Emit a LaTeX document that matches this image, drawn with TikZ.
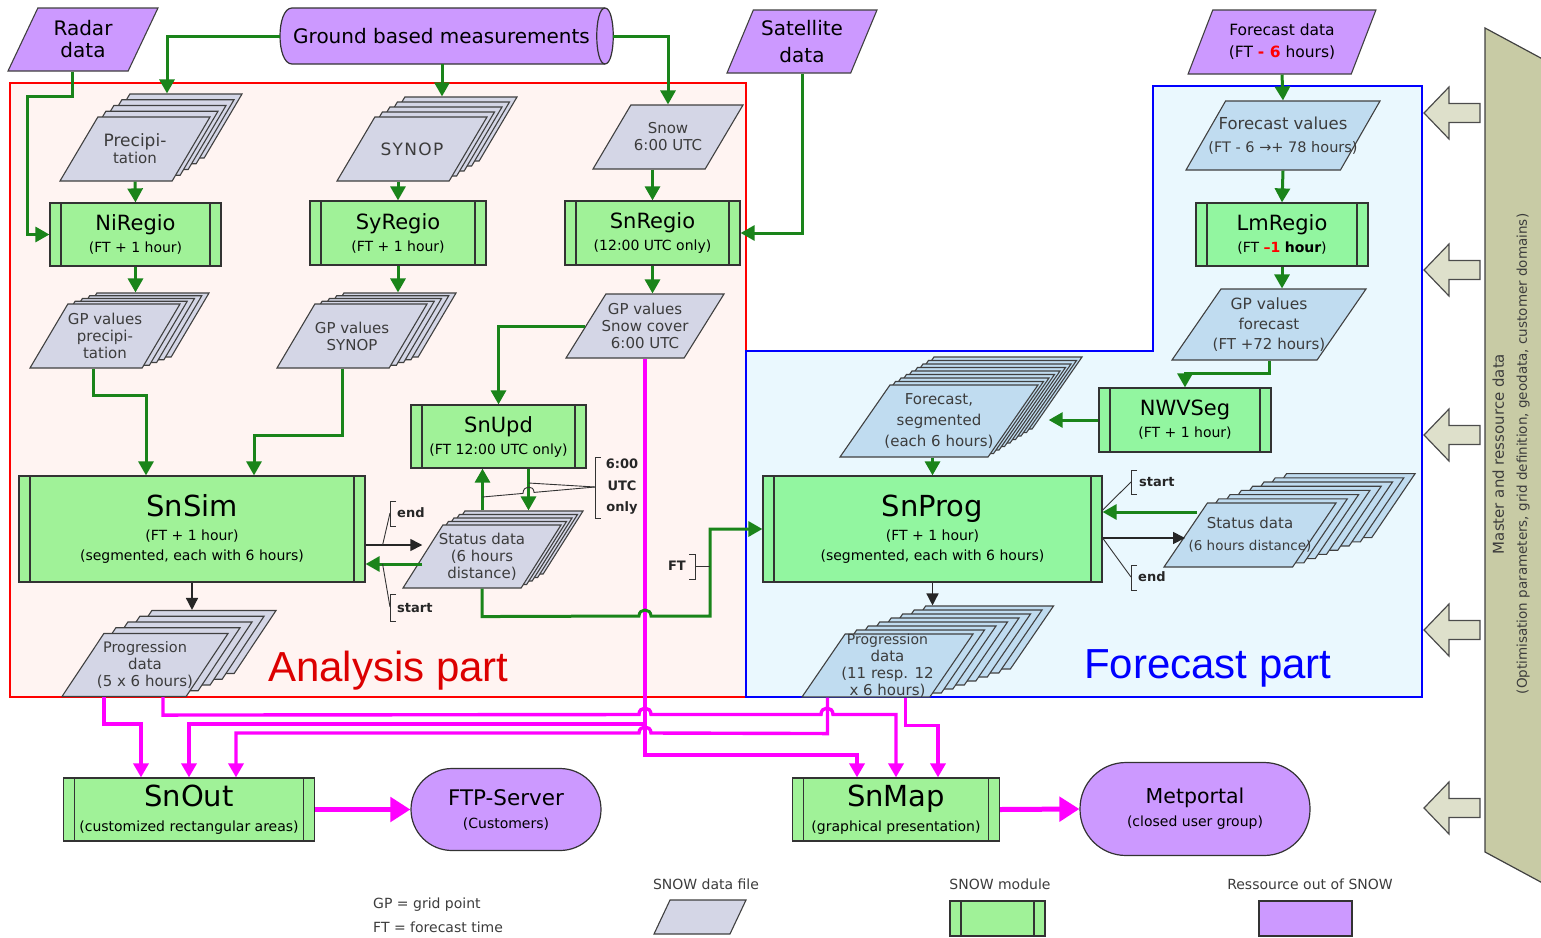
\documentclass[tikz,border=0pt]{standalone}
\usepackage{fontspec}
\setmainfont{DejaVu Sans}
\newfontfamily\partfont{Liberation Sans}
\usetikzlibrary{arrows.meta,shapes.geometric}

\definecolor{resC}{RGB}{204,153,255}
\definecolor{modA}{RGB}{160,242,152}
\definecolor{modF}{RGB}{146,246,160}
\definecolor{fileA}{RGB}{212,214,230}
\definecolor{fileF}{RGB}{192,220,240}
\definecolor{anaBG}{RGB}{255,244,242}
\definecolor{fcBG}{RGB}{234,248,254}
\definecolor{flowG}{RGB}{26,132,26}
\definecolor{outM}{RGB}{255,0,255}
\definecolor{barC}{RGB}{200,203,165}
\definecolor{barArr}{RGB}{222,224,203}
\definecolor{txtG}{RGB}{60,60,60}
\definecolor{partR}{RGB}{220,0,0}

\newcommand\modfont{\fontsize{21}{25}\selectfont}
\newcommand\bigfont{\fontsize{29}{33}\selectfont}
\newcommand\modsub{\fontsize{14}{20}\selectfont}
\newcommand\datafont{\fontsize{15}{17}\selectfont}
\newcommand\resfont{\fontsize{20}{22}\selectfont}
\newcommand\notefont{\fontsize{13}{21.5}\selectfont\bfseries}
\newcommand\legfont{\fontsize{14}{22}\selectfont}

\tikzset{
  module/.style={rectangle, draw=black!80, line width=1.2pt, fill=modA, align=center, inner sep=0pt, font=\modsub, text=black,
    path picture={\draw[black!80, line width=1.2pt]
      ([xshift=11]path picture bounding box.north west) -- ([xshift=11]path picture bounding box.south west)
      ([xshift=-11]path picture bounding box.north east) -- ([xshift=-11]path picture bounding box.south east);}},
  datafile/.style={trapezium, trapezium left angle=63, trapezium right angle=117, trapezium stretches=true,
    draw=black!75, line width=1.1pt, fill=fileA, inner sep=1pt, align=center, text=txtG, font=\datafont},
  infile/.style={datafile, fill=resC, text=black, font=\resfont},
  resource/.style={rectangle, draw=black!80, line width=1.2pt, fill=resC, align=center, font=\modsub, text=black},
  flow/.style={draw=flowG, line width=3pt, -{Triangle[length=14pt,width=15pt]}},
  ctrl/.style={draw=black!85, line width=1.5pt, -{Triangle[length=12pt,width=12pt]}},
  outflow/.style={draw=outM, line width=3.4pt, -{Triangle[length=14pt,width=15pt]}},
  bigout/.style={draw=outM, line width=5pt, -{Triangle[length=20pt,width=24pt]}},
  noteline/.style={draw=black!80, line width=0.9pt},
  notelab/.style={font=\notefont, text=black!85, inner sep=1pt}
}

% one data file: shape and its text
\newcommand\filenode[4]{%
  \node[#3] (#1) at #2 {};
  \node[font=\datafont, align=center, text=txtG, inner sep=0pt] (#1-txt) at (#1.center) {#4};
}
% a pile of data files: name, position, layers, dx, dy, style, text
\newcommand\filestack[7]{%
  \foreach \k in {#3,...,1}
    \node[#6, xshift=\k*#4, yshift=\k*#5] (#1-\k) at #2 {};
  \filenode{#1}{#2}{#6}{#7}
}

\begin{document}
\begin{tikzpicture}[x=1pt,y=-1pt]
\useasboundingbox (0,0) rectangle (1541,937);

% the two parts
\draw[draw=red, line width=2pt, fill=anaBG] (10,83) rectangle (746,697);
\draw[draw=blue, line width=2pt, fill=fcBG] (1153,86) -- (1422,86) -- (1422,697) -- (746,697) -- (746,351) -- (1153,351) -- cycle;
\node[font=\partfont\fontsize{42}{46}\selectfont, text=partR, anchor=base west, inner sep=0pt] (anapart) at (268,681) {Analysis part};
\node[font=\partfont\fontsize{42}{46}\selectfont, text=blue, anchor=base west, inner sep=0pt] (fcpart) at (1084,678) {Forecast part};

% master data
\draw[line width=1.2pt, draw=black!75, fill=barC] (1485,28) -- (1550,63) -- (1550,887) -- (1485,852) -- cycle;
\node[rotate=90, align=center, text=txtG, font=\fontsize{13.5}{23}\selectfont] (master) at (1511,454)
  {{\fontsize{15}{23}\selectfont Master and ressource data}\\(Optimisation parameters, grid definition, geodata, customer domains)};
\foreach \ay in {113,270,435,630,808}
  \draw[line width=1.2pt, draw=black!70, fill=barArr] (1424,\ay) -- (1449,\ay-26) -- (1449,\ay-9.5) -- (1480,\ay-9.5)
    -- (1480,\ay+9.5) -- (1449,\ay+9.5) -- (1449,\ay+26) -- cycle;

% sources
\node[infile, minimum width=150, minimum height=63] (radar) at (83,39.5) {Radar\\data};
\draw[line width=1.2pt, draw=black!80, fill=resC] (292,8) -- (605,8) .. controls (616,8) and (616,64) .. (605,64)
  -- (292,64) .. controls (276,64) and (276,8) .. (292,8) -- cycle;
\draw[line width=1.2pt, draw=black!80] (605,8) .. controls (594,8) and (594,64) .. (605,64);
\node[font=\resfont, minimum width=333, minimum height=56, inner sep=0pt] (ground) at (446.5,36) {\hspace*{-10pt}Ground based measurements};
\node[infile, minimum width=150, minimum height=63] (satellite) at (802,41.5) {Satellite\\[5pt]data};
\node[infile, minimum width=188, minimum height=64, font=\fontsize{15.5}{22}\selectfont] (fcdata) at (1282,42)
  {Forecast data\\(FT {\color{red}\bfseries - 6} hours)};

% analysis part
\filestack{prec}{(135,149)}{4}{8}{5.75}{datafile, minimum width=150, minimum height=64}
  {\fontsize{17}{18}\selectfont Precipi-\\tation}
\filestack{synop}{(412,149)}{4}{7.5}{5}{datafile, minimum width=150, minimum height=64}
  {\fontsize{17}{18}\selectfont\addfontfeature{LetterSpace=8}SYNOP}
\filenode{snow}{(668,137)}{datafile, minimum width=150, minimum height=64}{Snow\\6:00 UTC}
\node[module, minimum width=171, minimum height=63] (niregio) at (135.5,234.5) {{\modfont NiRegio}\\[2pt](FT + 1 hour)};
\node[module, minimum width=176, minimum height=64] (syregio) at (398,233) {{\modfont SyRegio}\\[2pt](FT + 1 hour)};
\node[module, minimum width=175, minimum height=64] (snregio) at (652.5,233) {{\modfont SnRegio}\\[2pt](12:00 UTC only)};
\filestack{gpprec}{(105,336)}{4}{7.25}{2.75}{datafile, minimum width=150, minimum height=64}{GP values\\precipi-\\tation}
\filestack{gpsynop}{(352,336)}{4}{7.25}{2.75}{datafile, minimum width=150, minimum height=64}{GP values\\SYNOP}
\filenode{gpsnow}{(645,326)}{datafile, minimum width=158, minimum height=64}{GP values\\Snow cover\\6:00 UTC}
\node[module, minimum width=175, minimum height=63] (snupd) at (498.5,436.5) {{\modfont SnUpd}\\[2pt](FT 12:00 UTC only)};
\node[module, minimum width=346, minimum height=106] (snsim) at (192,529)
  {{\bigfont SnSim}\\[4pt](FT + 1 hour)\\(segmented, each with 6 hours)};
\filestack{stat}{(482,556.5)}{4}{5.5}{3.5}{datafile, minimum width=158, minimum height=63}{Status data\\(6 hours\\distance)}
\filestack{proga}{(145,665)}{4}{12}{5.75}{datafile, minimum width=166, minimum height=63}
  {\fontsize{14.5}{16}\selectfont Progression\\data\\(5 x 6 hours)}

% forecast part
\filenode{fcvalues}{(1283,135.5)}{datafile, fill=fileF, trapezium left angle=71, trapezium right angle=109, minimum width=194, minimum height=69}
  {{\fontsize{16.5}{17}\selectfont Forecast values}\\[6pt]{\fontsize{14.5}{17}\selectfont(FT - 6 →+ 78 hours)}}
\node[module, fill=modF, minimum width=172, minimum height=63] (lmregio) at (1282,234.5)
  {{\modfont LmRegio}\\[2pt](FT {\color{red}\bfseries –1} \textbf{hour})};
\filenode{gpfc}{(1269,324.5)}{datafile, fill=fileF, minimum width=194, minimum height=71}
  {\fontsize{15.5}{17}\selectfont GP values\\[3pt]forecast\\[3pt](FT +72 hours)}
\node[module, fill=modF, minimum width=172, minimum height=64] (nwvseg) at (1185,420) {{\modfont NWVSeg}\\[2pt](FT + 1 hour)};
\filestack{fcseg}{(939,421)}{8}{5.5}{3.5}{datafile, fill=fileF, minimum width=198, minimum height=72}
  {Forecast,\\[4pt]segmented\\[4pt](each 6 hours)}
\node[module, fill=modF, minimum width=339, minimum height=106] (snprog) at (932.5,529)
  {{\bigfont SnProg}\\[4pt](FT + 1 hour)\\(segmented, each with 6 hours)};
\filestack{stf}{(1250,535)}{7}{11.3}{4.2}{datafile, fill=fileF, minimum width=172, minimum height=64}
  {Status data\\[5pt]{\fontsize{13.5}{17}\selectfont(6 hours distance)}}
\filestack{progf}{(887.5,665.5)}{7}{11.5}{4}{datafile, fill=fileF, minimum width=171, minimum height=63}
  {\fontsize{14}{16}\selectfont Progression\\data\\(11 resp. 12\\x 6 hours)}

% outputs
\node[module, minimum width=251, minimum height=63] (snout) at (189,809.5) {{\bigfont SnOut}\\[5pt](customized rectangular areas)};
\node[resource, rounded corners=41, minimum width=190, minimum height=82] (ftp) at (506,809.5)
  {{\fontsize{21.5}{22}\selectfont FTP-Server}\\[3pt](Customers)};
\node[module, minimum width=207, minimum height=63] (snmap) at (896,809.5) {{\bigfont SnMap}\\[5pt](graphical presentation)};
\node[resource, rounded corners=46, minimum width=230, minimum height=93] (metportal) at (1195,809)
  {{\fontsize{20.5}{22}\selectfont Metportal}\\[3pt](closed user group)};

% green flows
\draw[flow] (ground.west) -| (prec-4.north);
\draw[flow] (synop-4.north |- ground.south) -- (synop-4.north);
\draw[flow] (ground.east) -| (snow.north);
\draw[flow] ([xshift=-11]radar.south) -- ++(0,25) -| ([xshift=-22]niregio.west) -- (niregio.west);
\draw[flow] (satellite.south) |- (snregio.east);
\draw[flow] (prec.south) -- (niregio.north);
\draw[flow] (syregio.north |- synop.south) -- (syregio.north);
\draw[flow] (snregio.north |- snow.south) -- (snregio.north);
\draw[flow] (niregio.south) -- (niregio.south |- gpprec-4.north);
\draw[flow] (syregio.south) -- (syregio.south |- gpsynop-4.north);
\draw[flow] (snregio.south) -- (snregio.south |- gpsnow.north);
\draw[flow] ([xshift=-12]gpprec.south) -- ++(0,27) -| ([xshift=-46]snsim.north);
\draw[flow] ([xshift=-10]gpsynop.south) -- ++(0,67) -| ([xshift=62]snsim.north);
\draw[flow] (gpsnow.west) -| (snupd.north);
\coordinate (updL) at ([xshift=-16]snupd.south);
\coordinate (updR) at ([xshift=30]snupd.south);
\draw[flow] (updL |- stat-4.north) -- (updL);
\draw[flow] (updR) -- (updR |- stat-4.north);
\coordinate (simin) at ([yshift=-35]snsim.east);
\coordinate (simout) at ([yshift=-16]snsim.east);
\draw[flow] (simin -| stat.west) -- (simin);
\draw[ctrl] (simout) -- (simout -| stat.west);
\draw[ctrl] (snsim.south) -- (snsim.south |- proga-4.north);

\draw[flow] (fcdata.south) -- (fcvalues.north);
\draw[flow] (fcvalues.south) -- (lmregio.north);
\draw[flow] (lmregio.south) -- (lmregio.south |- gpfc.north);
\draw[flow] (gpfc.south) -- ++(0,13) -| (nwvseg.north);
\coordinate (segR) at ([xshift=-9]fcseg-8.east);
\draw[flow] (nwvseg.west) -- (nwvseg.west -| segR);
\draw[flow] (snprog.north |- fcseg.south) -- (snprog.north);
\coordinate (stfin) at ([xshift=12,yshift=23]stf.west);
\coordinate (progout) at ([yshift=-9]snprog.east);
\draw[flow] (stfin) -- (stfin -| snprog.east);
\draw[ctrl] (progout) -- (progout -| stf.west);
\draw[ctrl] (snprog.south) -- (snprog.south |- progf-7.north);

% magenta outputs
\draw[outflow] (gpsnow.south) -- (645,755) -| ([xshift=-39]snmap.north);
\draw[outflow] (gpsnow.south |- 0,724) -| (snout.north);
\draw[outflow] ([xshift=-41]proga.south) -- ++(0,27) -| ([xshift=-48]snout.north);
\draw[outflow] ([xshift=18]proga.south) -- ++(0,18) -- (639,714.5) .. controls (639,706) and (651,706) .. (651,714.5)
  -- (821,714.5) .. controls (821,706) and (833,706) .. (833,714.5) -| (snmap.north);
\draw[outflow] ([xshift=-60]progf.south) -- ++(0,36) -- (651,733) .. controls (651,725) and (639,725) .. (639,733)
  -| ([xshift=47]snout.north);
\draw[outflow] ([xshift=18]progf.south) -- ++(0,28) -| ([xshift=42]snmap.north);
\draw[bigout] (snout.east) -- (ftp.west);
\draw[bigout] (snmap.east) -- (metportal.west);

% status data back to SnProg
\draw[flow] (stat.south) -- ++(0,28) -- (639,616) .. controls (639,608) and (651,608) .. (651,616) -- (710,616) |- (snprog.west);

% marks
\node[notelab, anchor=west] (endA) at (396,513) {end};
\node[notelab, anchor=west] (startA) at (396,608) {start};
\draw[noteline] ([xshift=17]simout) -- (390,513);
\draw[noteline] ([xshift=17]simin) -- (390,607);
\draw[noteline] (396,501) -| (390,526) -- (396,526);
\draw[noteline] (396,594) -| (390,621) -- (396,621);

\node[notelab, anchor=west] (startF) at (1138,482) {start};
\node[notelab, anchor=west] (endF) at (1137,577) {end};
\draw[noteline] ([yshift=19]snprog.east) -- (1131,482);
\draw[noteline] (progout) -- (1131,577);
\draw[noteline] (1137,470) -| (1131,494) -- (1137,494);
\draw[noteline] (1137,565) -| (1131,590) -- (1137,590);

\node[notelab, align=center] (utc) at (622,487) {6:00\\UTC\\only};
\draw[noteline] (601,457) -| (595,518) -- (601,518);
\draw[noteline] (595,487) -- (updR |- 0,483);
\draw[noteline] (595,487) -- (534,492.4) .. controls (534,485) and (523,485) .. (523,493.4) -- (updL |- 0,497);

\node[notelab, anchor=east] (ftA) at (687,566) {FT};
\draw[noteline] (689,554) -| (695,579) -- (689,579);
\draw[noteline] (695,566) -- (710,566);

% legend
\node[anchor=west, font=\legfont, text=txtG, inner sep=0pt] (gpnote) at (373,905) {GP = grid point};
\node[anchor=west, font=\legfont, text=txtG, inner sep=0pt] (ftnote) at (373,927) {FT = forecast time};
\node[font=\legfont, text=txtG] (legfile) at (706,884) {SNOW data file};
\node[datafile, trapezium left angle=75, trapezium right angle=105, minimum width=92, minimum height=34] (legfilebox) at (700,917) {};
\node[font=\legfont, text=txtG] (legmod) at (1000,884) {SNOW module};
\node[module, minimum width=95, minimum height=35] (legmodbox) at (997.5,918.5) {};
\node[font=\legfont, text=txtG] (legres) at (1310,884) {Ressource out of SNOW};
\node[resource, minimum width=93, minimum height=35] (legresbox) at (1305.5,918.5) {};
\end{tikzpicture}
\end{document}
